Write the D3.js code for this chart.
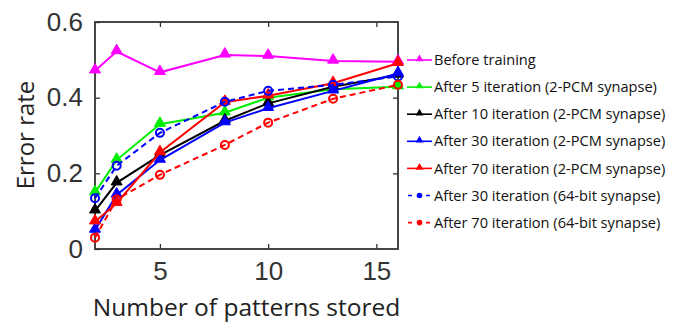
<!DOCTYPE html>
<html lang="en">
<head>
<meta charset="UTF-8">
<title>Error rate vs patterns stored</title>
<script src="https://cdnjs.cloudflare.com/ajax/libs/d3/7.8.5/d3.min.js"></script>
<style>
  body { margin: 0; background: #fff; }
  text { fill: #222; }
</style>
</head>
<body>
<div id="chart"></div>
<script>
// data
const patterns = [2, 3, 5, 8, 10, 13, 16];
const beforeTraining = [0.471, 0.522, 0.467, 0.513, 0.510, 0.497, 0.495];
const pcm5  = [0.149, 0.235, 0.330, 0.360, 0.400, 0.422, 0.429];
const pcm10 = [0.101, 0.175, 0.248, 0.339, 0.385, 0.429, 0.460];
const pcm30 = [0.050, 0.143, 0.235, 0.334, 0.372, 0.418, 0.464];
const pcm70 = [0.072, 0.121, 0.255, 0.388, 0.405, 0.438, 0.491];
const bit30 = [0.134, 0.220, 0.307, 0.389, 0.418, 0.434, 0.456];
const bit70 = [0.030, 0.131, 0.196, 0.275, 0.334, 0.397, 0.434];
const xTicks = [5, 10, 15];
const yTicks = [0, 0.2, 0.4, 0.6];

const series = [
  {name: 'Before training', values: beforeTraining, color: '#ff00ff', dash: null, mark: 'tri'},
  {name: 'After 5 iteration (2-PCM synapse)', values: pcm5, color: '#00ee00', dash: null, mark: 'tri'},
  {name: 'After 10 iteration (2-PCM synapse)', values: pcm10, color: '#000000', dash: null, mark: 'tri'},
  {name: 'After 30 iteration (2-PCM synapse)', values: pcm30, color: '#0000ff', dash: null, mark: 'tri'},
  {name: 'After 70 iteration (2-PCM synapse)', values: pcm70, color: '#ff0000', dash: null, mark: 'tri'},
  {name: 'After 30 iteration (64-bit synapse)', values: bit30, color: '#0000ff', dash: '6,4', mark: 'circ'},
  {name: 'After 70 iteration (64-bit synapse)', values: bit70, color: '#ff0000', dash: '6,4', mark: 'circ'}
];

const width = 695, height = 323;
const margin = {left: 95, right: 297, top: 22, bottom: 74};
const iw = width - margin.left - margin.right;
const ih = height - margin.top - margin.bottom;

const svg = d3.select('#chart').append('svg')
  .attr('width', width).attr('height', height);

const x = d3.scaleLinear().domain([2, 16]).range([margin.left, margin.left + iw]);
const y = d3.scaleLinear().domain([0, 0.6]).range([margin.top + ih, margin.top]);

const tickFont = '"Liberation Sans", Arial, sans-serif';
const labelFont = '"Open Sans", sans-serif';

// axes, ticks inside on all four sides
const axisColor = '#333';
const ax = [
  svg.append('g').attr('transform', `translate(0,${margin.top + ih})`)
    .call(d3.axisBottom(x).tickValues(xTicks).tickSizeInner(-5).tickSizeOuter(0).tickPadding(12)),
  svg.append('g').attr('transform', `translate(${margin.left},0)`)
    .call(d3.axisLeft(y).tickValues(yTicks).tickFormat(d => d === 0 ? '0' : d3.format('.1f')(d))
      .tickSizeInner(-5).tickSizeOuter(0).tickPadding(12)),
  svg.append('g').attr('transform', `translate(0,${margin.top})`)
    .call(d3.axisTop(x).tickValues(xTicks).tickSizeInner(-5).tickSizeOuter(0).tickFormat('')),
  svg.append('g').attr('transform', `translate(${margin.left + iw},0)`)
    .call(d3.axisRight(y).tickValues(yTicks.slice(1, 3)).tickSizeInner(-5).tickSizeOuter(0).tickFormat(''))
];
ax.forEach(g => {
  g.select('.domain').remove();
  g.selectAll('line').attr('stroke', axisColor).attr('stroke-width', 1.3);
  g.selectAll('text').style('font-family', tickFont).style('font-size', '26px').style('fill', '#333');
});
ax[0].selectAll('text').attr('dy', '0.72em');

svg.append('rect')
  .attr('x', margin.left).attr('y', margin.top)
  .attr('width', iw).attr('height', ih)
  .attr('fill', 'none').attr('stroke', axisColor).attr('stroke-width', 1.8);

// axis titles
svg.append('text')
  .attr('x', (margin.left + margin.left + iw) / 2).attr('y', 316)
  .attr('text-anchor', 'middle')
  .style('font-family', labelFont).style('font-size', '24.5px')
  .text('Number of patterns stored');

svg.append('text')
  .attr('transform', `translate(34,${margin.top + 113}) rotate(-90)`)
  .attr('text-anchor', 'middle')
  .style('font-family', labelFont).style('font-size', '24px')
  .text('Error rate');

const line = d3.line().x((d, i) => x(patterns[i])).y(d => y(d));
const tri = d3.symbol().type(d3.symbolTriangle).size(52);

series.forEach(s => {
  const g = svg.append('g');
  g.append('path')
    .attr('d', line(s.values))
    .attr('fill', 'none')
    .attr('stroke', s.color)
    .attr('stroke-width', 2)
    .attr('stroke-dasharray', s.dash);
  if (s.mark === 'tri') {
    g.selectAll('path.m').data(s.values).join('path')
      .attr('class', 'm')
      .attr('d', tri)
      .attr('transform', (d, i) => `translate(${x(patterns[i])},${y(d) - 1})`)
      .attr('fill', s.color)
      .attr('stroke', s.color)
      .attr('stroke-width', 1);
  } else {
    g.selectAll('circle').data(s.values).join('circle')
      .attr('cx', (d, i) => x(patterns[i]))
      .attr('cy', d => y(d))
      .attr('r', 4)
      .attr('fill', 'none')
      .attr('stroke', s.color)
      .attr('stroke-width', 2);
  }
});

// legend
const legend = svg.append('g').attr('transform', 'translate(407,60)');
const smallTri = d3.symbol().type(d3.symbolTriangle).size(26);
series.forEach((s, i) => {
  const row = legend.append('g').attr('transform', `translate(0,${i * 27.1})`);
  row.append('line')
    .attr('x1', 0).attr('x2', 25)
    .attr('stroke', s.color).attr('stroke-width', 1.6)
    .attr('stroke-dasharray', s.dash ? '4,5' : null)
    .attr('stroke-dashoffset', s.dash ? -1 : null);
  if (s.mark === 'tri') {
    row.append('path').attr('d', smallTri).attr('transform', 'translate(12.5,-1)').attr('fill', s.color);
  } else {
    row.append('circle').attr('cx', 12.5).attr('r', 2.8).attr('fill', s.color);
  }
  row.append('text')
    .attr('x', 27).attr('dy', '0.35em')
    .style('font-family', labelFont).style('font-size', '14.6px')
    .style('fill', '#111')
    .text(s.name);
});
</script>
</body>
</html>
